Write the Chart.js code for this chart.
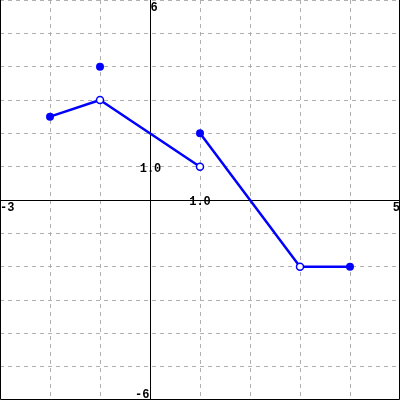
<!DOCTYPE html>
<html>
<head>
<meta charset="utf-8">
<script src="https://cdn.jsdelivr.net/npm/chart.js@4"></script>
<style>
html,body{margin:0;padding:0;background:#fff;}
#wrap{width:400px;height:400px;}
</style>
</head>
<body>
<div id="wrap"><canvas id="c" width="400" height="400"></canvas></div>
<script>
// Data
const seg1 = [[-2, 2.5], [-1, 3]];
const seg2 = [[-1, 3], [1, 1]];
const seg3 = [[1, 2], [3, -2]];
const seg4 = [[3, -2], [4, -2]];
const filledPts = [[-2, 2.5], [-1, 4], [1, 2], [4, -2]];
const openPts = [[-1, 3], [1, 1], [3, -2]];
const xRange = [-3, 5];
const yRange = [-6, 6];
const yTickLabel = [1, '1.0'];
const xTickLabel = [1, '1.0'];

const toXY = arr => arr.map(p => ({x: p[0], y: p[1]}));
const BLUE = '#0000ff';
const lineDs = seg => ({
  data: toXY(seg), showLine: true, borderColor: BLUE, borderWidth: 2.5,
  pointRadius: 0, pointHoverRadius: 0, fill: false, order: 3
});

const axesPlugin = {
  id: 'axesPlugin',
  beforeDatasetsDraw(chart) {
    const ctx = chart.ctx, xs = chart.scales.x, ys = chart.scales.y;
    const x0 = Math.round(xs.getPixelForValue(0)) + 0.5;
    const y0 = Math.round(ys.getPixelForValue(0)) + 0.5;
    ctx.save();
    ctx.strokeStyle = '#000';
    ctx.lineWidth = 1;
    ctx.beginPath();
    ctx.moveTo(x0, 0); ctx.lineTo(x0, 400);
    ctx.moveTo(0, y0); ctx.lineTo(400, y0);
    // frame
    ctx.moveTo(0.5, 0); ctx.lineTo(0.5, 399.5); ctx.lineTo(399.5, 399.5); ctx.lineTo(399.5, 0);
    ctx.stroke();
    ctx.fillStyle = '#000';
    ctx.font = 'bold 12px "Liberation Mono", "DejaVu Sans Mono", monospace';
    ctx.textBaseline = 'alphabetic';
    ctx.textAlign = 'left';
    ctx.fillText(String(yRange[1]), x0, 11);
    ctx.textAlign = 'right';
    ctx.fillText(String(yRange[0]), x0 - 1, 398);
    ctx.textAlign = 'left';
    ctx.fillText(String(xRange[0]), 0, 211);
    ctx.textAlign = 'right';
    ctx.fillText(String(xRange[1]), 400, 211);
    ctx.textAlign = 'center';
    ctx.fillText(yTickLabel[1], x0, Math.round(ys.getPixelForValue(yTickLabel[0])) + 5);
    ctx.fillText(xTickLabel[1], Math.round(xs.getPixelForValue(xTickLabel[0])), y0 + 4);
    ctx.restore();
  }
};

const gridOpts = {
  color: '#b0b0b0', lineWidth: 1, drawTicks: false, tickLength: 0
};

new Chart(document.getElementById('c'), {
  type: 'scatter',
  data: {
    datasets: [
      lineDs(seg1), lineDs(seg2), lineDs(seg3), lineDs(seg4),
      { data: toXY(filledPts), backgroundColor: BLUE, borderColor: BLUE, borderWidth: 0,
        pointRadius: 4, pointHoverRadius: 4, showLine: false, order: 1 },
      { data: toXY(openPts), backgroundColor: '#ffffff', borderColor: BLUE, borderWidth: 1.5,
        pointRadius: 3.5, pointHoverRadius: 3.5, showLine: false, order: 0 }
    ]
  },
  options: {
    responsive: false, animation: false,
    layout: { padding: 0, autoPadding: false },
    plugins: { legend: { display: false }, tooltip: { enabled: false } },
    events: [],
    scales: {
      x: { type: 'linear', min: xRange[0], max: xRange[1],
        ticks: { display: false, stepSize: 1 },
        border: { display: false, dash: [4, 4] },
        grid: gridOpts },
      y: { type: 'linear', min: yRange[0], max: yRange[1],
        ticks: { display: false, stepSize: 1 },
        border: { display: false, dash: [4, 4] },
        grid: gridOpts }
    }
  },
  plugins: [axesPlugin]
});
</script>
</body>
</html>
